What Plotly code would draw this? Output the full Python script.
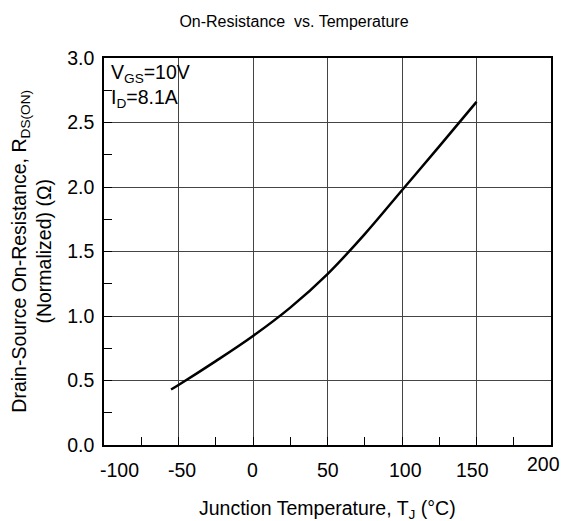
import plotly.graph_objects as go

# Data
temp_c = [-55, -50, -25, 0, 25, 50, 75, 100, 125, 150]
rds_norm = [0.43, 0.465, 0.65, 0.845, 1.065, 1.325, 1.635, 1.975, 2.315, 2.66]

x_tick_vals = [-100, -50, 0, 50, 100, 150, 200]
x_tick_text = ["-100", "-50", "0", "50", "100", "150", "200"]
y_tick_vals = [0.0, 0.5, 1.0, 1.5, 2.0, 2.5, 3.0]
y_tick_text = ["0.0", "0.5", "1.0", "1.5", "2.0", "2.5", "3.0"]

FONT = "Liberation Sans, Arial, sans-serif"
FS = 19.5

fig = go.Figure()
fig.add_trace(go.Scatter(
    x=temp_c, y=rds_norm, mode="lines",
    line=dict(color="black", width=2.5, shape="spline", smoothing=1.0),
    showlegend=False, hoverinfo="skip",
))

axis_common = dict(
    showline=True, linecolor="black", linewidth=1.5, mirror=True,
    showgrid=True, gridcolor="#444444", gridwidth=1,
    zeroline=False, ticks="inside", ticklen=8, tickcolor="black",
)

fig.update_layout(
    width=564, height=521,
    margin=dict(l=104, r=13, t=58, b=76),
    paper_bgcolor="white", plot_bgcolor="white",
    font=dict(family=FONT, color="black", size=FS),
    title=dict(text="On-Resistance  vs. Temperature", xref="paper", x=0.425,
               xanchor="center", y=0.958, yanchor="middle",
               font=dict(size=16, family=FONT)),
    xaxis=dict(range=[-100, 200], tickvals=x_tick_vals, ticktext=x_tick_text,
               showticklabels=False,
               minor=dict(dtick=25, tick0=0, ticks="inside", ticklen=8,
                          tickcolor="black", showgrid=False),
               **axis_common),
    yaxis=dict(range=[0, 3.0], tickvals=y_tick_vals, ticktext=y_tick_text,
               tickfont=dict(size=FS), ticklabelstandoff=4,
               minor=dict(dtick=0.25, tick0=0, ticks="inside", ticklen=8,
                          tickcolor="black", showgrid=False),
               **axis_common),
)

# x tick labels (placed as in the reference)
x_shift = {-100: 15, -50: 3, 0: -1, 50: 0, 100: 3, 150: -4, 200: -8}
y_shift = {200: 6}
for v, t in zip(x_tick_vals, x_tick_text):
    fig.add_annotation(x=v, y=0, xref="x", yref="paper", text=t, showarrow=False,
                       xanchor="center", yanchor="top", yshift=-12 + y_shift.get(v, 0),
                       xshift=x_shift.get(v, 0), font=dict(size=FS, family=FONT))

# Axis titles
fig.add_annotation(x=0.5, y=0, xref="paper", yref="paper",
                   text="Junction Temperature, T<sub>J</sub> (°C)", showarrow=False,
                   xanchor="center", yanchor="top", yshift=-50,
                   font=dict(size=FS, family=FONT))
fig.add_annotation(x=-0.163, y=0.5, xref="paper", yref="paper",
                   text="Drain-Source On-Resistance, R<sub>DS(ON)</sub><br>(Normalized) (Ω)",
                   showarrow=False, textangle=-90, xanchor="center", yanchor="middle",
                   font=dict(size=FS, family=FONT))

# Condition labels
fig.add_annotation(x=-100, y=1, xref="x", yref="paper", text="V<sub>GS</sub>=10V",
                   showarrow=False, xanchor="left", yanchor="top", xshift=5, yshift=-1,
                   font=dict(size=FS, family=FONT))
fig.add_annotation(x=-100, y=1, xref="x", yref="paper", text="I<sub>D</sub>=8.1A",
                   showarrow=False, xanchor="left", yanchor="top", xshift=5, yshift=-26,
                   font=dict(size=FS, family=FONT))

fig.write_html("out.html")
